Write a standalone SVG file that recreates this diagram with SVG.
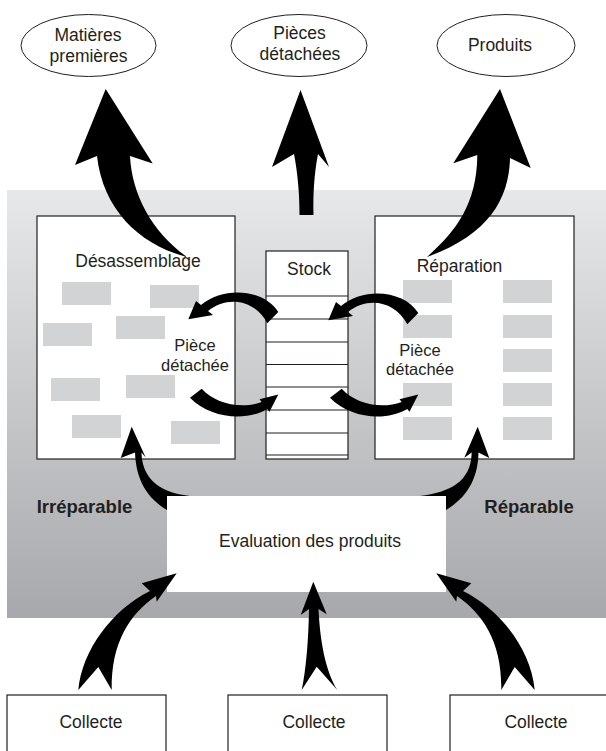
<svg xmlns="http://www.w3.org/2000/svg" width="606" height="751" viewBox="0 0 606 751">
<defs>
<linearGradient id="panelGrad" x1="0" y1="0" x2="0" y2="1">
<stop offset="0" stop-color="#e7e8e9"/>
<stop offset="1" stop-color="#a6a8ab"/>
</linearGradient>
<style>
.t{font-family:"Liberation Sans",Arial,sans-serif;font-size:17.5px;fill:#231f20;text-anchor:middle}
.b{font-weight:bold;font-size:18.5px}
.pd{font-size:16.5px}
.box{fill:#fff;stroke:#231f20;stroke-width:1.2}
.ell{fill:#fff;stroke:#231f20;stroke-width:1}
.blk{fill:#d1d3d4}
.line{stroke:#231f20;stroke-width:1.2}
.arr{fill:#000}
</style>
</defs>
<rect x="0" y="0" width="606" height="751" fill="#fff"/>
<rect id="panel" x="7" y="190" width="599" height="428" fill="url(#panelGrad)"/>

<g id="matieres">
<ellipse class="ell" cx="88.5" cy="45.5" rx="67.5" ry="31"/>
<text class="t" x="88" y="41" font-size="18">Matières</text>
<text class="t" x="88.5" y="61.5" font-size="18">premières</text>
</g>
<g id="pieces">
<ellipse class="ell" cx="299" cy="45.5" rx="68" ry="31"/>
<text class="t" x="299.5" y="38.5" font-size="18">Pièces</text>
<text class="t" x="300" y="59.5" font-size="18">détachées</text>
</g>
<g id="produits">
<ellipse class="ell" cx="506" cy="45.5" rx="69" ry="31"/>
<text class="t" x="500" y="51" font-size="18">Produits</text>
</g>

<g id="desassemblage">
<rect class="box" x="37" y="216" width="198" height="243"/>
<text class="t" x="138" y="267" font-size="16.5">Désassemblage</text>
<rect class="blk" x="62" y="282" width="49" height="23"/>
<rect class="blk" x="150" y="285" width="49" height="23"/>
<rect class="blk" x="43" y="323" width="49" height="23"/>
<rect class="blk" x="116" y="316" width="49" height="23"/>
<rect class="blk" x="51" y="378" width="49" height="23"/>
<rect class="blk" x="126" y="375" width="49" height="23"/>
<rect class="blk" x="72" y="415" width="49" height="23"/>
<rect class="blk" x="171" y="421" width="49" height="23"/>
<text class="t pd" x="195" y="351">Pièce</text>
<text class="t pd" x="195" y="370.5">détachée</text>
</g>

<g id="stock">
<rect class="box" x="266" y="251" width="82" height="208"/>
<text class="t" x="309" y="275">Stock</text>
<line class="line" x1="266" y1="296" x2="348" y2="296"/>
<line class="line" x1="266" y1="319" x2="348" y2="319"/>
<line class="line" x1="266" y1="342" x2="348" y2="342"/>
<line class="line" x1="266" y1="364.5" x2="348" y2="364.5"/>
<line class="line" x1="266" y1="387" x2="348" y2="387"/>
<line class="line" x1="266" y1="410" x2="348" y2="410"/>
<line class="line" x1="266" y1="433" x2="348" y2="433"/>
<line class="line" x1="266" y1="455" x2="348" y2="455"/>
</g>

<g id="reparation">
<rect class="box" x="375" y="216" width="199" height="243"/>
<text class="t" x="459.5" y="272">Réparation</text>
<rect class="blk" x="403" y="280" width="49" height="23"/>
<rect class="blk" x="403" y="315" width="49" height="23"/>
<rect class="blk" x="403" y="383" width="49" height="23"/>
<rect class="blk" x="403" y="417" width="49" height="23"/>
<rect class="blk" x="503" y="280" width="49" height="23"/>
<rect class="blk" x="503" y="315" width="49" height="23"/>
<rect class="blk" x="503" y="349" width="49" height="23"/>
<rect class="blk" x="503" y="383" width="49" height="23"/>
<rect class="blk" x="503" y="417" width="49" height="23"/>
<text class="t pd" x="420" y="355.5">Pièce</text>
<text class="t pd" x="420" y="375">détachée</text>
</g>

<g id="evaluation">
<rect x="167" y="496" width="279" height="96" fill="#fff"/>
<text class="t" x="310" y="547">Evaluation des produits</text>
</g>

<g id="labels">
<text class="t b" x="84.5" y="513">Irréparable</text>
<text class="t b" x="529" y="513">Réparable</text>
</g>

<g id="collecte1">
<rect class="box" x="7" y="695" width="159" height="70"/>
<text class="t" x="91" y="728" font-size="18">Collecte</text>
</g>
<g id="collecte2">
<rect class="box" x="228" y="695" width="159" height="70"/>
<text class="t" x="314" y="728" font-size="18">Collecte</text>
</g>
<g id="collecte3">
<rect class="box" x="450" y="695" width="160" height="70"/>
<text class="t" x="536" y="728" font-size="18">Collecte</text>
</g>

<g id="connectors">
<path class="arr" d="M 105.7 89 L 152.7 163.5 L 130 156 C 132 195, 152 232, 187 257 C 140 245, 103 210, 97 156 L 75 165 Z"/>
<path class="arr" d="M 300.5 90 L 329 167 L 318 154 C 314 175, 313 195, 313.5 215 L 299.5 215 C 299.5 195, 298 175, 294 154 L 272 167 Z"/>
<path class="arr" d="M 500 89 L 530.7 168 L 510 158 C 509 200, 488 235, 427 257 C 455 232, 477 205, 477.3 155 L 453.3 163.3 Z"/>
<path class="arr" d="M 278.3 312 C 265 290, 225 285, 201 305 L 196 301 L 188.3 319.3 L 213 315 L 208 311 C 228 295, 255 300, 267.3 323.3 Z"/>
<path class="arr" transform="translate(140,1)" d="M 278.3 312 C 265 290, 225 285, 201 305 L 196 301 L 188.3 319.3 L 213 315 L 208 311 C 228 295, 255 300, 267.3 323.3 Z"/>
<path class="arr" d="M 201.7 388.7 C 215 403, 240 410, 261.7 402 L 259.5 399.3 L 278.3 394.5 L 269.5 411.7 L 267.3 409 C 245 422, 210 418, 190 397.7 Z"/>
<path class="arr" transform="translate(140,0)" d="M 201.7 388.7 C 215 403, 240 410, 261.7 402 L 259.5 399.3 L 278.3 394.5 L 269.5 411.7 L 267.3 409 C 245 422, 210 418, 190 397.7 Z"/>
<path class="arr" d="M 131.7 426.7 L 145.7 457.5 L 141.5 452.5 C 142 475, 155 492, 190 496 L 167 496 L 167 510 C 147 498, 136 480, 135 452.5 L 120.7 458 Z"/>
<path class="arr" d="M 477.7 426.7 L 489.3 458 L 478.5 452.5 C 478 480, 466 498, 446 510 L 446 496 L 420 496 C 450 492, 471 482, 471.7 452.5 L 464.3 457.7 Z"/>
<path class="arr" d="M 176.7 573.3 L 156.7 601.7 L 156 596 C 130 614, 111 642, 111.7 690 L 98.3 667 L 78.3 690 C 82 650, 112 610, 150 591 L 141.7 583.3 Z"/>
<path class="arr" d="M 313.3 581.7 L 326.7 614.3 L 318.5 609 C 320 640, 325 670, 337.3 690 L 316.7 666.7 L 301.7 690 C 306 670, 308.5 640, 309 609 L 300.7 615 Z"/>
<path class="arr" d="M 436.3 573.3 L 456.3 601.7 L 457 596 C 483 614, 502 642, 501.3 690 L 514.7 667 L 534.7 690 C 531 650, 501 610, 463 591 L 471.3 583.3 Z"/>
</g>
</svg>
